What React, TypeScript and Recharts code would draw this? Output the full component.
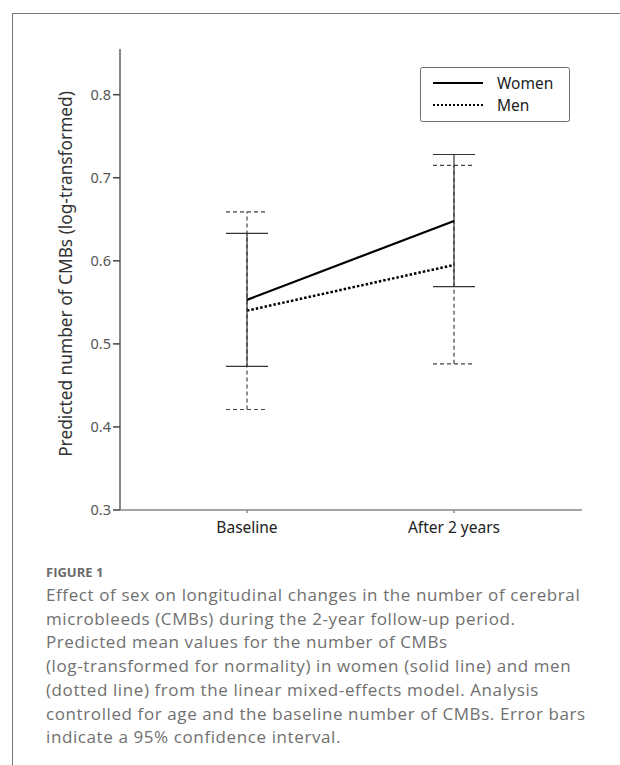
import { ErrorBar, Line, LineChart, XAxis, YAxis } from "recharts";

const categories = ["Baseline", "After 2 years"];
const women = [0.553, 0.648];
const womenLower = [0.473, 0.569];
const womenUpper = [0.633, 0.728];
const men = [0.540, 0.595];
const menLower = [0.421, 0.476];
const menUpper = [0.659, 0.715];
const yTicks = [0.3, 0.4, 0.5, 0.6, 0.7, 0.8];
const seriesNames = ["Women", "Men"];

const captionLines = [
  "Effect of sex on longitudinal changes in the number of cerebral",
  "microbleeds (CMBs) during the 2-year follow-up period.",
  "Predicted mean values for the number of CMBs",
  "(log-transformed for normality) in women (solid line) and men",
  "(dotted line) from the linear mixed-effects model. Analysis",
  "controlled for age and the baseline number of CMBs. Error bars",
  "indicate a 95% confidence interval.",
];

const data = categories.map((c, i) => ({
  cat: c,
  women: women[i],
  men: men[i],
  womenErr: [women[i] - womenLower[i], womenUpper[i] - women[i]],
  menErr: [men[i] - menLower[i], menUpper[i] - men[i]],
}));

const chartFont = "'Noto Sans', 'Open Sans', sans-serif";

// drawn outside the chart so it doesn't eat plot height
function LegendBox() {
  return (
    <svg width={150} height={55} style={{ position: "absolute", left: 420, top: 67 }}>
      <rect x={0.5} y={0.5} width={149} height={54} rx={2} fill="#fff" stroke="#6e6e6e" />
      <line x1={13} y1={16} x2={63} y2={16} stroke="#000" strokeWidth={2.2} />
      <line x1={13} y1={38} x2={63} y2={38} stroke="#000" strokeWidth={2} strokeDasharray="2 2" />
      <text x={77} y={16} dominantBaseline="central" fill="#222" fontSize={15.5} fontFamily={chartFont}>{seriesNames[0]}</text>
      <text x={77} y={38} dominantBaseline="central" fill="#222" fontSize={15.5} fontFamily={chartFont}>{seriesNames[1]}</text>
    </svg>
  );
}

function YLabel() {
  return (
    <text
      x={65}
      y={274}
      transform="rotate(-90, 65, 274)"
      textAnchor="middle"
      dominantBaseline="central"
      fill="#333"
      fontSize={17.3}
      fontFamily={chartFont}
    >
      Predicted number of CMBs (log-transformed)
    </text>
  );
}

export default function App() {
  return (
    <div style={{ position: "absolute", left: 0, top: 0, width: 620, height: 765, background: "#fff", overflow: "hidden" }}>
      <div style={{ position: "absolute", left: 12, top: 13, width: 700, height: 800, borderLeft: "1.5px solid #777", borderTop: "1.5px solid #777" }} />
      <div style={{ position: "absolute", left: 0, top: 0 }}>
        <LineChart width={620} height={560} data={data} margin={{ top: 49, right: 38, left: 60, bottom: 20 }}>
          <XAxis
            dataKey="cat"
            padding={{ left: 127, right: 128 }}
            height={30}
            stroke="#888"
            strokeWidth={1.5}
            tickSize={3}
            tick={{ fill: "#222", fontSize: 15.5, fontFamily: chartFont }}
            tickMargin={9}
          />
          <YAxis
            type="number"
            domain={[0.3, 0.855]}
            ticks={yTicks}
            width={60}
            allowDataOverflow
            stroke="#888"
            strokeWidth={2}
            tickSize={7}
            tickLine={{ stroke: "#444", strokeWidth: 1.5 }}
            tick={{ fill: "#555", fontSize: 14.5, fontFamily: chartFont }}
            tickMargin={2}
            tickFormatter={(v: number) => v.toFixed(1)}
            label={<YLabel />}
          />
          <Line
            dataKey="men"
            name={seriesNames[1]}
            stroke="#000"
            strokeWidth={2.5}
            strokeDasharray="2.5 2"
            dot={false}
            isAnimationActive={false}
          >
            <ErrorBar dataKey="menErr" width={21} stroke="#444" strokeWidth={1.2} strokeDasharray="4 3" isAnimationActive={false} />
          </Line>
          <Line
            dataKey="women"
            name={seriesNames[0]}
            stroke="#000"
            strokeWidth={2.2}
            dot={false}
            isAnimationActive={false}
          >
            <ErrorBar dataKey="womenErr" width={21} stroke="#333" strokeWidth={1.2} isAnimationActive={false} />
          </Line>
        </LineChart>
      </div>
      <LegendBox />
      <div style={{ position: "absolute", left: 46, top: 562, fontFamily: "'Open Sans', sans-serif", color: "#707070" }}>
        <div style={{ fontSize: 13, fontWeight: 700, color: "#6a6a6a", lineHeight: "20px" }}>FIGURE 1</div>
        <div style={{ fontSize: 17, lineHeight: "23.7px", marginTop: 1, letterSpacing: 0.6 }}>
          {captionLines.map((l, i) => (
            <div key={i} style={{ whiteSpace: "nowrap" }}>{l}</div>
          ))}
        </div>
      </div>
    </div>
  );
}
